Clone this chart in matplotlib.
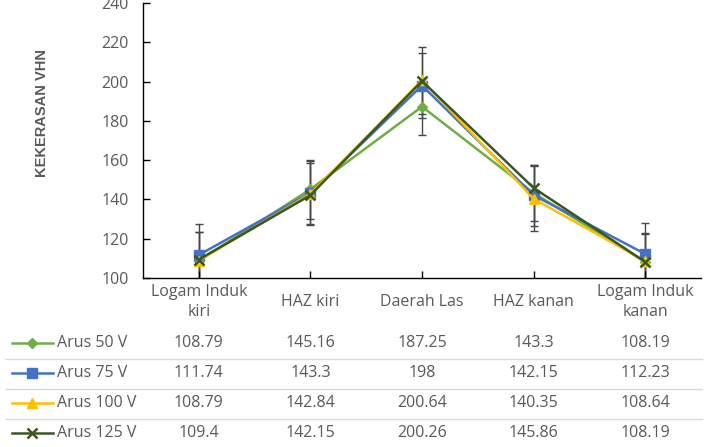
import numpy as np
import matplotlib
matplotlib.use("Agg")
import matplotlib.pyplot as plt
from matplotlib.lines import Line2D
from matplotlib.transforms import blended_transform_factory

plt.rcParams['font.family'] = ['Open Sans', 'DejaVu Sans']

categories = ['Logam Induk\nkiri', 'HAZ kiri', 'Daerah Las', 'HAZ kanan', 'Logam Induk\nkanan']
series_names = ['Arus 50 V', 'Arus 75 V', 'Arus 100 V', 'Arus 125 V']
arus_50 = [108.79, 145.16, 187.25, 143.3, 108.19]
arus_75 = [111.74, 143.3, 198, 142.15, 112.23]
arus_100 = [108.79, 142.84, 200.64, 140.35, 108.64]
arus_125 = [109.4, 142.15, 200.26, 145.86, 108.19]
# error bars
err_50 = [14.6, 15.0, 14.45, 14.2, 14.5]
err_75 = [15.8, 16.5, 16.7, 15.6, 16.0]
err_100 = [14.6, 15.5, 17.2, 16.5, 14.0]

values = [arus_50, arus_75, arus_100, arus_125]
errors = [err_50, err_75, err_100, None]
colors = ['#70AD47', '#4472C4', '#FFC000', '#385723']
markers = ['D', 's', '^', 'x']
msizes = [5.5, 7, 7, 7]

W, H = 704, 447
fig = plt.figure(figsize=(W / 100, H / 100), dpi=100)
ax = fig.add_axes([143 / W, 1 - 278 / H, (701 - 143) / W, 275 / H])

x = np.arange(len(categories))
txt = '#595959'
fs = 11.5

for v, e, c in zip(values, errors, colors):
    if e is not None:
        ax.errorbar(x, v, yerr=e, fmt='none', ecolor='#474747', elinewidth=1,
                    capsize=3, capthick=1, zorder=1)

for v, c, m, ms in zip(values, colors, markers, msizes):
    ax.plot(x, v, color=c, lw=1.8, marker=m, ms=ms, mew=1.8 if m == 'x' else 1,
            mec=c, mfc=c, zorder=2)

ax.set_xlim(-0.5, len(categories) - 0.5)
ax.set_ylim(100, 240)
ax.set_yticks(np.arange(100, 241, 20))
ax.set_xticks(x)
ax.set_xticklabels([])
ax.tick_params(axis='both', direction='in', length=5, width=1, colors='black',
               labelcolor=txt, labelsize=fs)
ax.tick_params(axis='y', pad=10)
for s in ['top', 'right']:
    ax.spines[s].set_visible(False)
for s in ['left', 'bottom']:
    ax.spines[s].set_color('black')
    ax.spines[s].set_linewidth(1)
ax.patch.set_alpha(0)

fig.text(42 / W, 1 - 113 / H, 'KEKERASAN VHN', rotation=90, ha='center', va='center',
         color=txt, fontsize=10.5, fontweight='bold', family='Liberation Sans')

# data table below the chart
tr = blended_transform_factory(ax.transData, fig.transFigure)
for i, cat in enumerate(categories):
    fig.text(i, 1 - 302 / H, cat, transform=tr, ha='center', va='center',
             color=txt, fontsize=fs, linespacing=1.4)

row_y = [343, 373, 403, 433]
for r, (name, v, c, m, ms) in enumerate(zip(series_names, values, colors, markers, msizes)):
    yy = 1 - row_y[r] / H
    fig.add_artist(Line2D([12 / W, 53 / W], [yy, yy], color=c, lw=1.8,
                          transform=fig.transFigure))
    fig.add_artist(Line2D([32 / W], [yy], color=c, marker=m, ms=ms,
                          mew=1.8 if m == 'x' else 1, mec=c, mfc=c,
                          transform=fig.transFigure))
    fig.text(57 / W, yy, name, ha='left', va='center', color=txt, fontsize=fs)
    for i, val in enumerate(v):
        fig.text(i, yy, f'{val:g}', transform=tr, ha='center', va='center',
                 color=txt, fontsize=fs)

for ly in [359, 389, 419]:
    fig.add_artist(Line2D([6 / W, 702 / W], [1 - ly / H, 1 - ly / H], color='#D9D9D9',
                          lw=1, transform=fig.transFigure))

fig.savefig('out.png', dpi=100)
